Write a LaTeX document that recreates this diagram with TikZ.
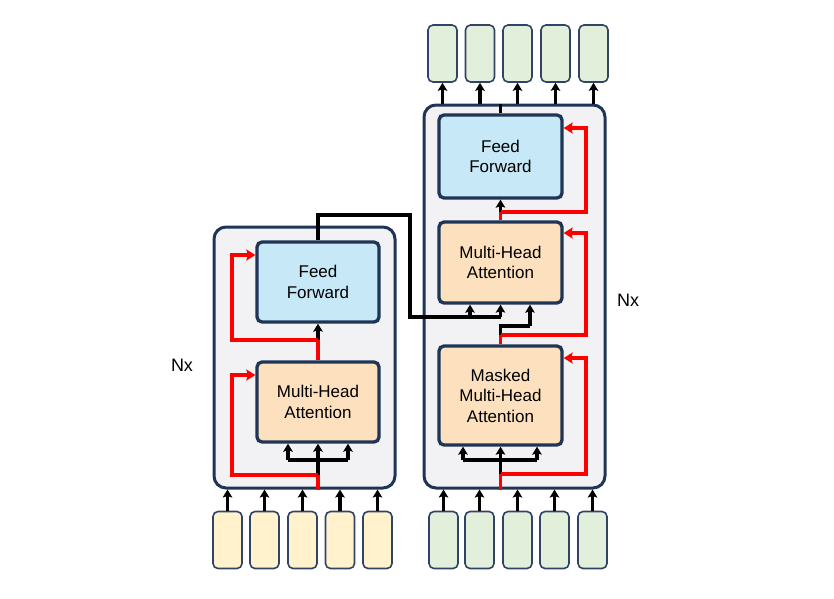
\documentclass[tikz,border=0pt]{standalone}
\usepackage{fontspec}
\setmainfont{Liberation Sans}
\usetikzlibrary{arrows.meta}
\definecolor{navy}{HTML}{1F3556}
\definecolor{bigfill}{HTML}{F2F2F5}
\definecolor{fffill}{HTML}{C6E8F7}
\definecolor{mhafill}{HTML}{FDE1BF}
\definecolor{enctok}{HTML}{FFF2CC}
\definecolor{dectok}{HTML}{E2EFDA}
\definecolor{tokborder}{HTML}{2F4466}
\definecolor{skipred}{HTML}{FF0000}
\begin{document}
\begin{tikzpicture}[x=1pt,y=-1pt,
  bigbox/.style={draw=navy, line width=3pt, fill=bigfill, rounded corners=12pt},
  layerbox/.style={draw=navy, line width=3.3pt, rounded corners=5pt, align=center,
     font=\fontsize{17}{20.5}\selectfont, inner sep=0pt},
  tok/.style={draw=tokborder, line width=1.6pt, rounded corners=5pt,
     minimum width=29pt, minimum height=57pt, inner sep=0pt},
  flow/.style={draw=black, line width=3.3pt},
  arr/.style={flow, -{Stealth[length=8pt,width=9.5pt,inset=1.5pt]}},
  res/.style={draw=skipred, line width=3.8pt},
  resarr/.style={res, -{Stealth[length=9pt,width=11pt,inset=1.5pt]}},
  nx/.style={font=\fontsize{18}{20}\selectfont}
]
\useasboundingbox (0,0) rectangle (834,598);

% ---------- Encoder ----------
\node[bigbox, minimum width=181pt, minimum height=261pt] (encbox) at (304.5,357.5) {};
\node[layerbox, fill=fffill, minimum width=122pt, minimum height=80pt] (encff) at (318,282) {Feed\\Forward};
\node[layerbox, fill=mhafill, minimum width=122pt, minimum height=80pt] (encmha) at (318,402) {Multi-Head\\Attention};
\node[nx] (nxl) at (182,365) {Nx};

% encoder tokens
\foreach \i/\x in {1/227.5,2/264.5,3/302.5,4/340,5/377.5}{
  \node[tok, fill=enctok] (et\i) at (\x,540) {};
  \draw[arr] (et\i.north) -- (et\i.north |- encbox.south);
}

% encoder internal flow
\coordinate (eb) at (318,475);
\coordinate (eq) at (288,460);
\coordinate (ev) at (348,460);
\coordinate (em) at (318,340);
\draw[arr] (eb) -- (encmha.south);
\draw[flow] (eq) -- (ev);
\draw[arr] (eq) -- (eq |- encmha.south);
\draw[arr] (ev) -- (ev |- encmha.south);
\draw[arr] (em) -- (encff.south);
\draw[res] (encbox.south -| eb) -- (eb);
\draw[resarr] (eb) -- (232,475) -- (232,375) -- (232,375 -| encmha.west);
\draw[res] (encmha.north) -- (em);
\draw[resarr] (em) -- (232,340) -- (232,255) -- (232,255 -| encff.west);

% ---------- Decoder ----------
\node[bigbox, minimum width=181pt, minimum height=383pt] (decbox) at (514.5,296.5) {};
\node[layerbox, fill=fffill, minimum width=123pt, minimum height=83pt] (decff) at (500.5,156.5) {Feed\\Forward};
\node[layerbox, fill=mhafill, minimum width=123pt, minimum height=81pt] (decmha) at (500.5,262.5) {Multi-Head\\Attention};
\node[layerbox, fill=mhafill, minimum width=123pt, minimum height=99pt] (decmm) at (500.5,395.5) {Masked\\Multi-Head\\Attention};
\node[nx] (nxr) at (628,300) {Nx};

% decoder tokens
\foreach \i/\x in {1/443.5,2/479.5,3/517.5,4/554.5,5/592.5}{
  \node[tok, fill=dectok] (dt\i) at (\x,540) {};
  \draw[arr] (dt\i.north) -- (dt\i.north |- decbox.south);
}
\foreach \i/\x in {1/442.5,2/480,3/517.5,4/555.5,5/593.5}{
  \node[tok, fill=dectok] (ot\i) at (\x,53.5) {};
  \draw[arr] (ot\i.south |- decbox.north) -- (ot\i.south);
}

% decoder internal flow
\coordinate (db) at (500.5,474);
\coordinate (dq) at (463,460);
\coordinate (dv) at (537,460);
\coordinate (d1) at (500.5,335);
\coordinate (d1k) at (500.5,326);
\coordinate (d1r) at (530,326);
\coordinate (d2) at (500.5,212);
\draw[arr] (db) -- (decmm.south);
\draw[flow] (dq) -- (dv);
\draw[arr] (dq) -- (dq |- decmm.south);
\draw[arr] (dv) -- (dv |- decmm.south);
\draw[res] (decbox.south -| db) -- (db);
\draw[resarr] (db) -- (586,474) -- (586,358) -- (586,358 -| decmm.east);

\draw[res] (decmm.north) -- (d1);
\draw[flow] (d1) -- (d1k) -- (d1r);
\draw[arr] (d1r) -- (d1r |- decmha.south);
\draw[resarr] (d1) -- (586,335) -- (586,233) -- (586,233 -| decmha.east);

\draw[res] (decmha.north) -- (d2);
\draw[arr] (d2) -- (decff.south);
\draw[resarr] (d2) -- (586,212) -- (586,128) -- (586,128 -| decff.east);

\draw[flow] (decff.north) -- (decff.north |- decbox.north);

% encoder -> decoder cross connection
\coordinate (c1) at (318,215);
\coordinate (c2) at (410,215);
\coordinate (c3) at (410,317);
\coordinate (c4) at (470,317);
\coordinate (c5) at (500.5,317);
\draw[flow] (encff.north) -- (c1) -- (c2) -- (c3) -- (c5);
\draw[arr] (c4) -- (c4 |- decmha.south);
\draw[arr] (c5) -- (decmha.south);
\end{tikzpicture}
\end{document}
